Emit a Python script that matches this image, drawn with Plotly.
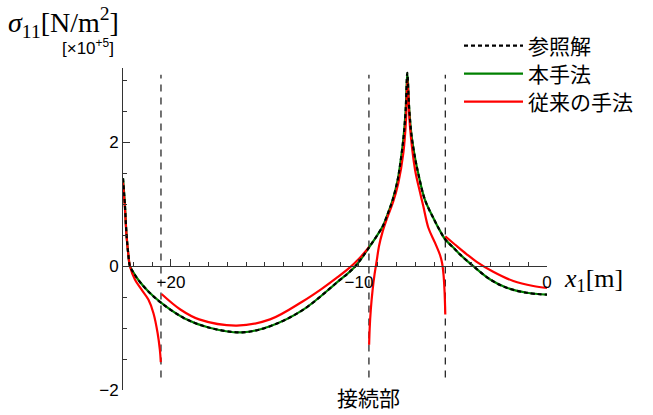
import plotly.graph_objects as go

# ---------------- data ----------------
# reference solution (参照解) and proposed method (本手法) : x1 [m], sigma11 [x1e5 N/m2]
ref_x = [-22.55, -22.5, -22.45, -22.36, -22.27, -22.18, -22.0, -21.74, -21.2, -20.53,
         -19.3, -18.0, -16.2, -14.73, -13.0, -11.2, -10.19, -9.47, -8.88, -8.71, -8.5,
         -8.2, -7.95, -7.82, -7.64, -7.52, -7.43, -7.33, -7.2, -7.0, -6.85, -6.49, -6.0,
         -5.69, -5.41, -4.98, -4.63, -3.92, -3.0, -2.14, -1.08, 0.0]
ref_y = [1.42, 1.22, 1.0, 0.5, 0.2, 0.0, -0.10, -0.22, -0.41, -0.59,
         -0.84, -0.99, -1.07, -0.97, -0.71, -0.27, 0.0, 0.30, 0.57, 0.66, 0.82,
         1.08, 1.38, 1.62, 2.05, 2.5, 3.12, 2.55, 2.1, 1.72, 1.5, 1.07, 0.75,
         0.57, 0.43, 0.30, 0.19, 0.0, -0.22, -0.35, -0.43, -0.46]
new_x = ref_x
new_y = ref_y

# conventional method (従来の手法): four pieces separated by the connections
old_x = [-22.55, -22.5, -22.45, -22.36, -22.27, -22.18, -21.91, -21.56, -21.2, -20.93,
         -20.71, -20.59, -20.54, None,
         -20.5, -19.5, -18.5, -16.5, -14.73, -13.0, -12.0, -11.19, -10.48, -10.0, -9.59,
         -9.47, None,
         -9.46, -9.43, -9.37, -9.28, -9.17, -9.06, -8.93, -8.75, -8.5, -8.18, -7.91,
         -7.64, -7.5, -7.42, -7.29, -7.02, -6.76, -6.58, -6.31, -5.96, -5.69, -5.58,
         -5.5, -5.45, -5.42, -5.41, None,
         -5.41, -4.9, -4.3, -3.74, -2.86, -1.79, -0.73, 0.0]
old_y = [1.35, 1.15, 0.95, 0.48, 0.2, 0.0, -0.22, -0.38, -0.54, -0.76,
         -1.08, -1.35, -1.55, None,
         -0.45, -0.70, -0.86, -0.96, -0.86, -0.57, -0.37, -0.19, -0.02, 0.12, 0.26,
         0.31, None,
         -1.27, -1.0, -0.7, -0.4, -0.13, 0.08, 0.33, 0.55, 0.78, 1.04, 1.34,
         1.83, 2.35, 3.0, 2.26, 1.56, 1.2, 0.97, 0.62, 0.38, 0.18, 0.05,
         -0.15, -0.4, -0.65, -0.78, None,
         0.48, 0.35, 0.20, 0.07, -0.09, -0.24, -0.32, -0.35]

# connection positions (dashed lines) and their vertical extent
joint_x = [-20.53, -9.47, -5.41]
joint_y = [-1.80, 3.09]

x_ticks = [-20, -10, 0]
y_ticks = [-2, 0, 2]

# ---------------- figure ----------------
W, H = 653, 415
L, R, T, B = 123, 106, 68, 25
XR = [-22.55, 0.0]
YR = [-2.0, 3.2]

def px(xp):
    return (xp - L) / (W - L - R)

def py(yp):
    return (H - B - yp) / (H - T - B)

fig = go.Figure()

for jx in joint_x:
    fig.add_trace(go.Scatter(x=[jx, jx], y=joint_y, mode="lines",
                             line=dict(color="black", width=1.1, dash="7px,6px"),
                             showlegend=False, hoverinfo="skip"))

fig.add_trace(go.Scatter(x=new_x, y=new_y, mode="lines", name="本手法",
                         line=dict(color="#008000", width=2.2, shape="spline", smoothing=1.0),
                         legend="legend2"))
fig.add_trace(go.Scatter(x=old_x, y=old_y, mode="lines", name="従来の手法",
                         line=dict(color="#ff0000", width=2.2, shape="spline", smoothing=1.0),
                         connectgaps=False, legend="legend3"))
fig.add_trace(go.Scatter(x=ref_x, y=ref_y, mode="lines", name="参照解",
                         line=dict(color="black", width=2.2, dash="4px,3px", shape="spline", smoothing=1.0),
                         legend="legend"))

tick_font = dict(family="Liberation Sans, Arial", size=17, color="black")

def leg(row_y):
    return dict(xref="container", yref="container", x=459 / W, y=1 - row_y / H,
                xanchor="left", yanchor="middle",
                font=dict(family="Noto Sans CJK JP", size=21, color="black"),
                bgcolor="rgba(0,0,0,0)", borderwidth=0, itemwidth=59)

fig.update_layout(
    width=W, height=H,
    margin=dict(l=L, r=R, t=T, b=B, pad=0, autoexpand=False),
    paper_bgcolor="white", plot_bgcolor="white",
    showlegend=True,
    legend=leg(46), legend2=leg(74), legend3=leg(102),
    xaxis=dict(range=XR, showgrid=False, zeroline=False,
               anchor="free", position=(0 - YR[0]) / (YR[1] - YR[0]),
               showline=True, linecolor="#333", linewidth=1,
               tickmode="array", tickvals=x_ticks,
               ticktext=["\u221220", "\u221210", "0"],
               ticks="inside", ticklen=7, tickcolor="#333",
               minor=dict(dtick=1, tick0=0, ticks="inside", ticklen=4, tickcolor="#333"),
               tickfont=tick_font),
    yaxis=dict(range=YR, showgrid=False, zeroline=False,
               showline=True, linecolor="#333", linewidth=1,
               tickmode="array", tickvals=y_ticks,
               ticktext=["\u22122", "0", "2"],
               ticks="inside", ticklen=7, tickcolor="#333",
               minor=dict(dtick=0.5, tick0=0, ticks="inside", ticklen=4, tickcolor="#333"),
               tickfont=tick_font),
)

ann = [
    dict(x=px(6), y=py(22), xref="paper", yref="paper", xanchor="left", yanchor="middle",
         text="<i>σ</i><sub>11</sub>[N/m<sup>2</sup>]",
         font=dict(family="Liberation Serif, DejaVu Serif", size=28, color="black"), showarrow=False),
    dict(x=px(60), y=py(47), xref="paper", yref="paper", xanchor="left", yanchor="middle",
         text="[×10<sup>+5</sup>]",
         font=dict(family="Liberation Sans, Arial", size=17, color="black"), showarrow=False),
    dict(x=px(562), y=py(280), xref="paper", yref="paper", xanchor="left", yanchor="middle",
         text="<i>x</i><sub>1</sub>[m]",
         font=dict(family="Liberation Serif, DejaVu Serif", size=26, color="black"), showarrow=False),
    dict(x=joint_x[1], y=py(397), xref="x", yref="paper", xanchor="center", yanchor="middle",
         text="接続部",
         font=dict(family="Noto Sans CJK JP", size=21, color="black"), showarrow=False),
]
fig.update_layout(annotations=ann)

fig.write_html("out.html", config={"displayModeBar": False},
               post_script="document.body.style.margin='0';")
